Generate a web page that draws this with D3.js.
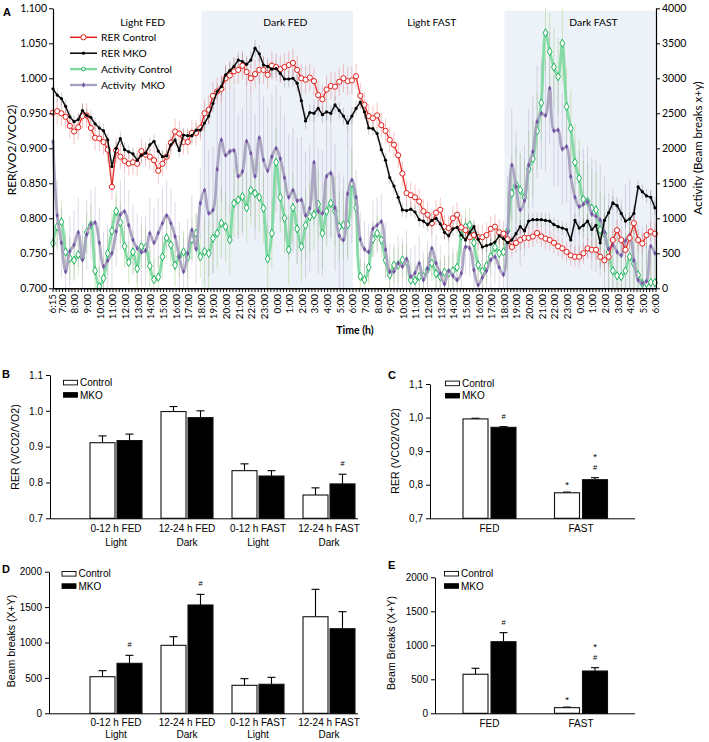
<!DOCTYPE html>
<html><head><meta charset="utf-8">
<script src="https://cdn.jsdelivr.net/npm/d3@7"></script>
<style>body{margin:0;background:#fff;} svg{display:block;}</style>
</head><body><svg id="c" width="709" height="742"></svg>
<script>
// ---------------- Panel A data (sampled every 20 min from 6:15) ----------------
const rerControl=[
.951,.953,.950,.945,.932,.924,.930,.946,.947,.929,
.915,.914,.909,.898,.845,.897,.888,.882,.878,.880,
.878,.896,.891,.888,.883,.868,.878,.888,.908,.924,
.921,.909,.909,.922,.922,.929,.950,.955,.975,.981,
.985,1.000,1.004,1.010,1.012,1.018,1.009,1.000,1.006,1.012,
1.012,1.005,1.018,1.016,1.013,1.016,1.019,1.022,1.012,1.000,
.998,1.001,.996,.976,.970,.984,.989,.988,.995,1.000,
.996,.997,1.003,.975,.962,.946,.943,.947,.933,.925,
.912,.905,.890,.864,.836,.833,.830,.824,.810,.805,
.793,.808,.812,.788,.786,.800,.805,.787,.783,.773,
.776,.773,.773,.776,.785,.788,.780,.778,.770,.759,
.765,.769,.772,.772,.774,.779,.774,.771,.769,.765,
.760,.757,.752,.747,.745,.745,.750,.757,.755,.755,
.745,.740,.745,.769,.783,.769,.755,.772,.793,.769,
.764,.776,.781,.778];
const rerMKO=[
.985,.976,.971,.960,.945,.938,.941,.954,.947,.944,
.935,.929,.925,.912,.874,.900,.914,.898,.895,.892,
.883,.890,.893,.905,.910,.896,.888,.889,.905,.912,
.897,.919,.918,.918,.926,.926,.936,.946,.964,.981,
.988,1.005,1.011,1.017,1.026,1.024,1.020,1.026,1.043,1.035,
1.019,1.017,1.013,1.014,1.007,.999,.999,1.000,.993,.968,
.939,.951,.950,.957,.948,.952,.950,.962,.954,.946,
.936,.946,.957,.966,.952,.929,.928,.921,.898,.883,
.858,.846,.830,.812,.811,.813,.809,.798,.796,.791,
.797,.800,.792,.780,.775,.785,.787,.776,.769,.780,
.788,.770,.759,.761,.763,.766,.775,.771,.765,.769,
.778,.788,.782,.796,.798,.798,.798,.797,.796,.791,
.788,.786,.784,.769,.797,.786,.790,.796,.784,.790,
.765,.797,.808,.822,.818,.807,.796,.799,.807,.845,
.838,.832,.830,.815];
const actControl=[
643,880,950,520,430,400,480,440,800,905,
250,24,143,500,820,1100,940,600,370,520,
280,595,580,320,125,160,450,720,619,330,
452,520,440,700,786,450,524,500,715,786,
930,881,691,1215,1262,1310,1150,1400,1357,1300,
1143,420,786,1800,1300,1000,550,1150,850,595,
900,1024,1050,1200,786,1100,1215,1100,881,905,
910,1500,1150,170,120,300,700,786,691,400,
190,330,333,405,380,119,110,167,167,270,
357,210,167,230,220,250,300,750,880,905,
650,333,245,320,452,585,500,520,820,1357,
1480,1405,1300,1700,1850,2250,2650,3650,3382,3160,
3024,3500,2596,2286,1800,1572,1270,1238,1143,1120,
834,780,520,250,180,167,250,450,350,190,
71,71,85,80];
const actMKO=[
2096,1040,650,238,530,620,800,405,770,910,
940,650,310,395,500,810,1050,1096,900,691,
572,520,540,786,650,790,930,1040,930,740,
450,238,500,834,560,1215,1400,1072,1119,1700,
2120,1900,1953,1970,1600,1667,2100,1929,1600,2150,
1834,1680,1881,2000,1850,1580,1300,1400,1250,1262,
1040,1143,1800,1100,1072,1600,1643,1150,750,691,
1350,1548,1300,700,560,520,850,900,953,550,
238,240,357,310,420,167,220,357,119,280,
572,360,214,60,250,180,120,214,590,570,
262,48,155,250,405,450,300,195,800,1762,
1450,1119,1250,1760,1950,2380,2500,2470,2858,2250,
2262,1990,2024,1596,1300,1167,1200,1238,1060,1030,
976,800,560,620,520,470,680,760,400,119,
71,100,600,500];
// SEM per phase (Light FED, Dark FED, Light FAST, Dark FAST)
const rerControlSem=[0.018,0.02,0.018,0.015];
const rerMKOSem=[0.01,0.012,0.01,0.01];
const actControlSem=[300,500,250,550];
const actMKOSem=[500,900,400,800];
const phaseNames=["Light FED","Dark FED","Light FAST","Dark FAST"];
const phaseStart=[0,11.75,23.75,35.75];
const phaseEnd=[11.75,23.75,35.75,47.75];
const phaseDark=[false,true,false,true];
const leftTicks=[0.70,0.75,0.80,0.85,0.90,0.95,1.00,1.05,1.10];
const rightTicks=[0,500,1000,1500,2000,2500,3000,3500,4000];
const timeLabels=["6:15","7:00","8:00","9:00","10:00","11:00","12:00","13:00","14:00","15:00","16:00","17:00",
"18:00","19:00","20:00","21:00","22:00","23:00","0:00","1:00","2:00","3:00","4:00","5:00",
"6:00","7:00","8:00","9:00","10:00","11:00","12:00","13:00","14:00","15:00","16:00","17:00",
"18:00","19:00","20:00","21:00","22:00","23:00","0:00","1:00","2:00","3:00","4:00","5:00","6:00"];

// ---------------- Panels B–E data ----------------
const catsB=["0-12 h FED","12-24 h FED","0-12 h FAST","12-24 h FAST"];
const catsB2=["Light","Dark","Light","Dark"];
const rerB_control=[0.911,0.998,0.833,0.765];
const rerB_controlErr=[0.019,0.014,0.019,0.020];
const rerB_mko=[0.917,0.981,0.818,0.796];
const rerB_mkoErr=[0.018,0.019,0.015,0.027];
const catsC=["FED","FAST"];
const rerC_control=[0.996,0.776];
const rerC_controlErr=[0.002,0.002];
const rerC_mko=[0.971,0.815];
const rerC_mkoErr=[0.002,0.006];
const beamD_control=[517,960,395,1364];
const beamD_controlErr=[85,122,94,387];
const beamD_mko=[706,1530,410,1195];
const beamD_mkoErr=[113,150,98,240];
const beamE_control=[574,83];
const beamE_controlErr=[88,8];
const beamE_mko=[1053,622];
const beamE_mkoErr=[133,49];
const rerTicks=[0.7,0.8,0.9,1.0,1.1];
const beamTicks=[0,500,1000,1500,2000];

// ---------------- drawing ----------------
const svg=d3.select("#c");
const fA="Lato, 'Open Sans', sans-serif";
const fB="'Liberation Sans', Arial, sans-serif";

const xA=d3.scaleLinear().domain([0,47.75]).range([53,656]);
const yL=d3.scaleLinear().domain([0.7,1.1]).range([288.3,8.3]);
const yR=d3.scaleLinear().domain([0,4000]).range([288.3,8.3]);
const hourOf=i=>i/3;
const phaseOf=h=>h<11.75?0:h<23.75?1:h<35.75?2:3;
const gA=svg.append("g");

svg.append("clipPath").attr("id","clipA").append("rect")
  .attr("x",53).attr("y",8.3).attr("width",603).attr("height",280);

phaseNames.forEach((p,k)=>{
  if(phaseDark[k]) gA.append("rect").attr("x",xA(phaseStart[k])).attr("y",10.7)
    .attr("width",xA(phaseEnd[k])-xA(phaseStart[k])).attr("height",288.3-10.7).attr("fill","#edf1f8");
});
const phaseLabelHour=[7.1,18.4,30.0,42.8];
phaseNames.forEach((p,k)=>{
  gA.append("text").attr("x",xA(phaseLabelHour[k])).attr("y",26).attr("text-anchor","middle")
    .attr("font-family",fA).attr("font-size",10.3).text(p);
});

const seriesA=[
 {name:"Activity Control",vals:actControl,sem:actControlSem,y:yR,line:"#7ed9a2",lw:2.8,bar:"rgba(150,210,110,0.45)",curve:d3.curveCatmullRom,mk:"dia",mc:"#1fb45a"},
 {name:"Activity  MKO",vals:actMKO,sem:actMKOSem,y:yR,line:"#a8a1bf",lw:2.8,bar:"rgba(160,150,185,0.35)",curve:d3.curveCatmullRom,mk:"pdot",mc:"#7354a3"},
 {name:"RER Control",vals:rerControl,sem:rerControlSem,y:yL,line:"#e0201b",lw:1.3,bar:"rgba(225,90,90,0.35)",curve:d3.curveLinear,mk:"circ",mc:"#e0201b"},
 {name:"RER MKO",vals:rerMKO,sem:rerMKOSem,y:yL,line:"#000",lw:1.5,bar:"rgba(0,0,0,0.18)",curve:d3.curveLinear,mk:"dot",mc:"#000"}
];
const gErr=gA.append("g").attr("clip-path","url(#clipA)");
seriesA.forEach(s=>{
  gErr.selectAll(null).data(s.vals).enter().append("line")
    .attr("x1",(d,i)=>xA(hourOf(i))).attr("x2",(d,i)=>xA(hourOf(i)))
    .attr("y1",(d,i)=>s.y(d-s.sem[phaseOf(hourOf(i))]))
    .attr("y2",(d,i)=>s.y(d+s.sem[phaseOf(hourOf(i))]))
    .attr("stroke",s.bar).attr("stroke-width",1);
});
function drawMarker(g,s,x,y){
  if(s.mk==="dia") g.append("path").attr("d",d3.symbol(d3.symbolDiamond,20)()).attr("transform",`translate(${x},${y})`).attr("fill","#fff").attr("stroke",s.mc).attr("stroke-width",1);
  else if(s.mk==="pdot") g.append("path").attr("d",d3.symbol(d3.symbolDiamond,9)()).attr("transform",`translate(${x},${y})`).attr("fill",s.mc);
  else if(s.mk==="circ") g.append("circle").attr("cx",x).attr("cy",y).attr("r",2.6).attr("fill","#fff").attr("stroke",s.mc).attr("stroke-width",1);
  else g.append("circle").attr("cx",x).attr("cy",y).attr("r",1.6).attr("fill",s.mc);
}
seriesA.forEach(s=>{
  const line=d3.line().x((d,i)=>xA(hourOf(i))).y(d=>s.y(d)).curve(s.curve);
  gA.append("path").attr("d",line(s.vals)).attr("fill","none").attr("stroke",s.line)
    .attr("stroke-width",s.lw).attr("stroke-linejoin","round").attr("opacity",0.95);
  const gm=gA.append("g");
  s.vals.forEach((d,i)=>drawMarker(gm,s,xA(hourOf(i)),s.y(d)));
});

// axes A
const axL=gA.append("g").attr("transform","translate(53,0)")
  .call(d3.axisLeft(yL).tickValues(leftTicks).tickFormat(d3.format(".3f")).tickSize(4).tickSizeOuter(0));
const axR=gA.append("g").attr("transform","translate(656,0)")
  .call(d3.axisRight(yR).tickValues(rightTicks).tickFormat(d3.format("d")).tickSize(4).tickSizeOuter(0));
[axL,axR].forEach(a=>{a.selectAll("text").attr("font-family",fA).attr("font-size",10.5).attr("fill","#000");
  a.select(".domain").attr("stroke","#000").attr("stroke-width",1.2); a.selectAll(".tick line").attr("stroke","#000");});
axL.selectAll("text").attr("x",-6); axR.selectAll("text").attr("x",6);
gA.append("line").attr("x1",53).attr("x2",656).attr("y1",288.8).attr("y2",288.8).attr("stroke","#000").attr("stroke-width",1.5);
gA.selectAll(null).data(d3.range(0,192)).enter().append("line")
  .attr("x1",d=>xA(d*0.25)).attr("x2",d=>xA(d*0.25)).attr("y1",288.8).attr("y2",292)
  .attr("stroke","#000").attr("stroke-width",0.9);
timeLabels.forEach((t,k)=>{
  const h=k===0?0:k-0.25;
  gA.append("text").attr("transform",`translate(${xA(h)+3.4},294) rotate(-90)`).attr("text-anchor","end")
    .attr("font-family",fA).attr("font-size",9.8).text(t);
});
gA.append("text").attr("x",355).attr("y",334).attr("text-anchor","middle").attr("font-family",fA)
  .attr("font-weight","bold").attr("font-size",10.5).text("Time (h)");
gA.append("text").attr("transform","translate(16,150) rotate(-90)").attr("text-anchor","middle")
  .attr("font-family",fA).attr("font-size",12).text("RER(VO2/VCO2)");
gA.append("text").attr("transform","translate(702,148) rotate(-90)").attr("text-anchor","middle")
  .attr("font-family",fA).attr("font-size",11.5).text("Activity (Beam breaks x+y)");
svg.append("text").attr("x",3).attr("y",16).attr("font-family",fB).attr("font-weight","bold").attr("font-size",11).text("A");

// legend A
const legOrder=[2,3,0,1];
legOrder.forEach((si,k)=>{
  const s=seriesA[si]; const y=37.3+15.9*k;
  gA.append("line").attr("x1",70).attr("x2",97).attr("y1",y).attr("y2",y).attr("stroke",s.line).attr("stroke-width",si<2?2.4:1.5);
  if(si===0) gA.append("circle").attr("cx",83.5).attr("cy",y).attr("r",1.8).attr("fill","#fff").attr("stroke",s.mc);
  else drawMarker(gA,s,83.5,y);
  gA.append("text").attr("x",101).attr("y",y).attr("dy","0.35em").attr("font-family",fA).attr("font-size",10.3)
    .style("white-space","pre").text(s.name);
});

// ---------------- bar panels ----------------
function barPanel(p){
  const g=svg.append("g");
  const x0=d3.scaleBand().domain(p.cats).range(p.bandRange);
  const x1=d3.scaleBand().domain(["Control","MKO"]).range([0,x0.bandwidth()]).paddingInner(p.pin).paddingOuter(p.pout);
  const y=d3.scaleLinear().domain(p.yDomain).range(p.yRange);
  const y0=p.yRange[0];
  const groups=[{k:"Control",v:p.ctrl,e:p.ctrlErr,fill:"#fff"},{k:"MKO",v:p.mko,e:p.mkoErr,fill:"#000"}];
  groups.forEach(gr=>{
    p.cats.forEach((c,i)=>{
      const bx=x0(c)+x1(gr.k), bw=x1.bandwidth(), cx=bx+bw/2;
      g.append("line").attr("x1",cx).attr("x2",cx).attr("y1",y(gr.v[i])).attr("y2",y(gr.v[i]+gr.e[i])).attr("stroke","#000").attr("stroke-width",1.1);
      g.append("line").attr("x1",cx-4).attr("x2",cx+4).attr("y1",y(gr.v[i]+gr.e[i])).attr("y2",y(gr.v[i]+gr.e[i])).attr("stroke","#000").attr("stroke-width",1.1);
      g.append("rect").attr("x",bx).attr("y",y(gr.v[i])).attr("width",bw).attr("height",y0-y(gr.v[i]))
        .attr("fill",gr.fill).attr("stroke","#111").attr("stroke-width",1.1);
    });
  });
  (p.sig||[]).forEach(s=>{
    const i=p.cats.indexOf(s.cat); const gr=groups[s.g==="MKO"?1:0];
    const cx=x0(s.cat)+x1(s.g)+x1.bandwidth()/2;
    const top=y(gr.v[i]+gr.e[i]);
    s.marks.forEach((m,j)=>{
      const by = j===0 ? (m==="*"?top-4:top-8) : top-18;
      g.append("text").attr("x",cx).attr("y",by).attr("text-anchor","middle")
        .attr("font-family",fB).attr("font-size",m==="*"?9.5:7.5).attr("fill","#000").text(m);
    });
  });
  const ax=g.append("g").attr("transform",`translate(${p.axisX},0)`)
    .call(d3.axisLeft(y).tickValues(p.ticks).tickFormat(p.fmt).tickSize(4).tickSizeOuter(0));
  ax.selectAll("text").attr("font-family",fB).attr("font-size",10).attr("fill","#000").attr("x",-7);
  ax.select(".domain").attr("stroke","#000"); ax.selectAll(".tick line").attr("stroke","#000");
  g.append("line").attr("x1",p.axisX).attr("x2",p.axisEnd).attr("y1",y0+0.5).attr("y2",y0+0.5).attr("stroke","#000");
  p.cats.forEach((c,i)=>{
    const cx=x0(c)+x0.bandwidth()/2;
    g.append("text").attr("x",cx).attr("y",y0+p.lab1).attr("text-anchor","middle").attr("font-family",fB).attr("font-size",10).text(c);
    if(p.cats2) g.append("text").attr("x",cx).attr("y",y0+p.lab2).attr("text-anchor","middle").attr("font-family",fB).attr("font-size",10).text(p.cats2[i]);
  });
  g.append("text").attr("transform",`translate(${p.titleX},${p.titleY}) rotate(-90)`).attr("text-anchor","middle")
    .attr("font-family",fB).attr("font-size",10.6).text(p.title);
  g.append("text").attr("x",p.label[0]).attr("y",p.label[1]).attr("font-family",fB).attr("font-weight","bold").attr("font-size",11).text(p.label[2]);
  [["Control","#fff"],["MKO","#000"]].forEach((l,k)=>{
    const ly=p.leg[1]+k*12.3;
    g.append("rect").attr("x",p.leg[0]).attr("y",ly-2.3).attr("width",14).attr("height",4.6).attr("fill",l[1]).attr("stroke","#000").attr("stroke-width",0.9);
    g.append("text").attr("x",p.leg[0]+16.5).attr("y",ly).attr("dy","0.36em").attr("font-family",fB).attr("font-size",10).text(l[0]);
  });
}
const fmtComma=d=>d3.format(".1f")(d).replace(".",",");
barPanel({cats:catsB,cats2:catsB2,ctrl:rerB_control,ctrlErr:rerB_controlErr,mko:rerB_mko,mkoErr:rerB_mkoErr,
  yDomain:[0.7,1.1],yRange:[518.3,375],ticks:rerTicks,fmt:d3.format(".1f"),axisX:50,axisEnd:358,
  bandRange:[80.5,364.5],pin:0.074,pout:0.352,lab1:14,lab2:28,title:"RER (VCO2/VO2)",titleX:19,titleY:447,
  label:[2,378,"B"],leg:[63.5,382.6],sig:[{cat:"12-24 h FAST",g:"MKO",marks:["#"]}]});
barPanel({cats:catsC,ctrl:rerC_control,ctrlErr:rerC_controlErr,mko:rerC_mko,mkoErr:rerC_mkoErr,
  yDomain:[0.7,1.1],yRange:[518.3,384],ticks:rerTicks,fmt:fmtComma,axisX:430,axisEnd:635,
  bandRange:[443.75,626.75],pin:0.107,pout:0.6875,lab1:14,title:"RER (VCO2/VO2)",titleX:399,titleY:451,
  label:[388,379,"C"],leg:[445.5,383.4],
  sig:[{cat:"FED",g:"MKO",marks:["#"]},{cat:"FAST",g:"Control",marks:["*"]},{cat:"FAST",g:"MKO",marks:["#","*"]}]});
barPanel({cats:catsB,cats2:catsB2,ctrl:beamD_control,ctrlErr:beamD_controlErr,mko:beamD_mko,mkoErr:beamD_mkoErr,
  yDomain:[0,2000],yRange:[713.3,571.7],ticks:beamTicks,fmt:d3.format("d"),axisX:49,axisEnd:358,
  bandRange:[80.5,364.5],pin:0.074,pout:0.352,lab1:13,lab2:25,title:"Beam breaks (X+Y)",titleX:15,titleY:641,
  label:[2,573,"D"],leg:[62,573.8],
  sig:[{cat:"0-12 h FED",g:"MKO",marks:["#"]},{cat:"12-24 h FED",g:"MKO",marks:["#"]}]});
barPanel({cats:catsC,ctrl:beamE_control,ctrlErr:beamE_controlErr,mko:beamE_mko,mkoErr:beamE_mkoErr,
  yDomain:[0,2000],yRange:[713.3,577.3],ticks:beamTicks,fmt:d3.format("d"),axisX:435,axisEnd:635,
  bandRange:[443.75,626.75],pin:0.107,pout:0.6875,lab1:14,title:"Beam Breaks (X+Y)",titleX:395,titleY:643,
  label:[388,569,"E"],leg:[444.5,573.7],
  sig:[{cat:"FED",g:"MKO",marks:["#"]},{cat:"FAST",g:"Control",marks:["*"]},{cat:"FAST",g:"MKO",marks:["#","*"]}]});
</script></body></html>
